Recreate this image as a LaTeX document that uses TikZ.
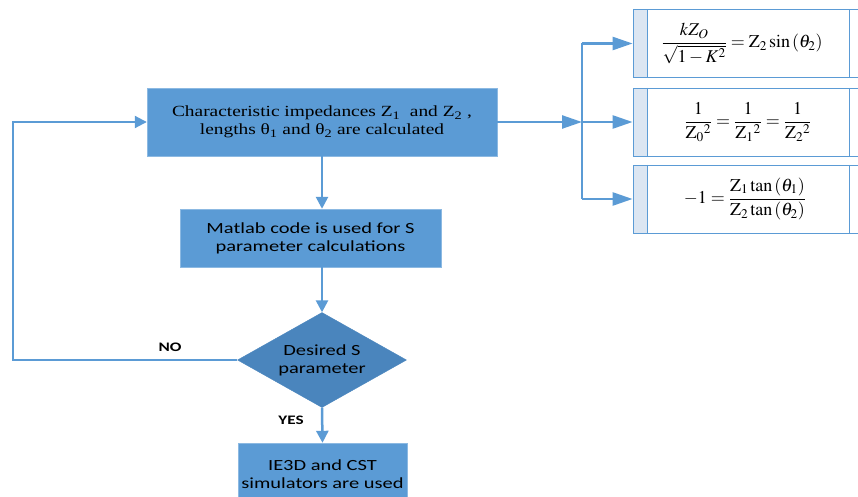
\documentclass[tikz,border=0pt]{standalone}
\usepackage{amsmath}
\usepackage{mathptmx}
\usepackage{fontspec}
\setmainfont{Carlito}[FakeStretch=1.32]
\newfontfamily\timesfont{Liberation Serif}[FakeStretch=1.25]
\usetikzlibrary{shapes.geometric,arrows.meta}

\definecolor{boxblue}{HTML}{5B9BD5}
\definecolor{darkblue}{HTML}{4A85BD}
\definecolor{bandblue}{HTML}{DCE6F2}

\tikzset{
 procbox/.style={draw=boxblue!70!white, fill=boxblue, align=center, inner sep=0pt,
   font=\fontsize{15.5}{18}\selectfont},
 decision/.style={diamond, draw=darkblue, fill=darkblue, align=center, inner sep=0pt,
   minimum width=169pt, minimum height=95pt, aspect=1.78, font=\fontsize{15.5}{18}\selectfont},
 eqbox/.style={draw=boxblue, fill=white, thick, minimum width=230pt, minimum height=68pt,
   font=\fontsize{18}{21}\selectfont,
   path picture={
     \fill[bandblue] (path picture bounding box.north west) rectangle
       ([xshift=14pt]path picture bounding box.south west);
     \draw[boxblue, thick] ([xshift=14pt]path picture bounding box.north west) --
       ([xshift=14pt]path picture bounding box.south west);
     \draw[boxblue, thick] ([xshift=-14pt]path picture bounding box.north east) --
       ([xshift=-14pt]path picture bounding box.south east);
   }},
 flow/.style={draw=boxblue, line width=2.5pt, -{Triangle[length=12pt,width=12pt]}},
 branch/.style={draw=boxblue, line width=2.5pt, -{Triangle[length=20pt,width=13pt]}},
 answer/.style={font=\fontsize{13}{15}\selectfont\bfseries}
}

\begin{document}
\begin{tikzpicture}[x=1pt,y=-1pt]
 \useasboundingbox (0,0) rectangle (858,497);

 \node[procbox, minimum width=350pt, minimum height=68pt] (calc) at (322,122)
   {\timesfont Characteristic impedances Z\textsubscript{1} \ and Z\textsubscript{2} ,\\
    \timesfont lengths θ\textsubscript{1} and θ\textsubscript{2} are calculated};
 \node[procbox, minimum width=261pt, minimum height=58pt] (matlab) at (310.5,238)
   {Matlab code is used for S\\parameter calculations};
 \node[decision] (check) at (322,360) {Desired S\\parameter};
 \node[procbox, minimum width=169pt, minimum height=62pt] (sim) at (322.5,474)
   {IE3D and CST\\simulators are used};

 \node[eqbox] (eqa) at (748,43.5)
   {\hspace*{-12pt}$\dfrac{kZ_O}{\sqrt{1-K^2}}=\mathrm{Z}_2\sin\,(\theta_2)$};
 \node[eqbox] (eqb) at (748,122)
   {$\dfrac{1}{\mathrm{Z}_0{}^2}=\dfrac{1}{\mathrm{Z}_1{}^2}=\dfrac{1}{\mathrm{Z}_2{}^2}$};
 \node[eqbox] (eqc) at (748,199)
   {\hspace*{-6pt}$-1=\dfrac{\mathrm{Z}_1\tan\,(\theta_1)}{\mathrm{Z}_2\tan\,(\theta_2)}$};

 \coordinate (split) at (582,122);
 \coordinate (back) at (13,360);

 \draw[flow] (calc.south) -- (matlab.north -| calc.south);
 \draw[flow] (matlab.south -| check.north) -- (check.north);
 \draw[flow] (check.south) -- node[answer, left=14pt, pos=.35] {YES} (sim.north);
 \draw[flow, line width=2pt] (check.west) -- node[answer, above=4pt, pos=.3] {NO} (back)
   |- (calc.west);

 \draw[branch] (calc.east) -- (split);
 \draw[boxblue, line width=2.5pt] (split |- eqa.west) -- (split |- eqc.west);
 \draw[branch] (split |- eqa.west) -- (eqa.west);
 \draw[branch] (split) -- (eqb.west);
 \draw[branch] (split |- eqc.west) -- (eqc.west);
\end{tikzpicture}
\end{document}
